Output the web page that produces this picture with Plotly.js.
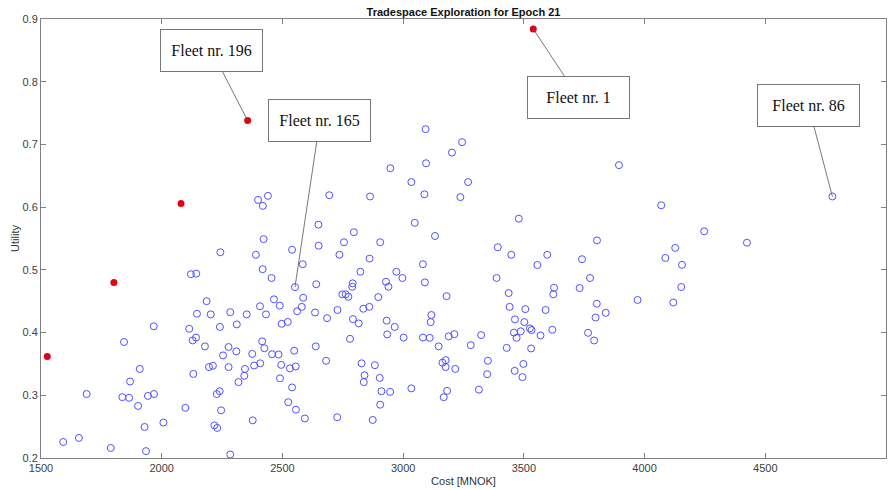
<!DOCTYPE html>
<html>
<head>
<meta charset="utf-8">
<script src="https://cdn.plot.ly/plotly-3.0.1.min.js"></script>
<style>html,body{margin:0;padding:0;background:#fff;}#chart{width:893px;height:490px;}</style>
</head>
<body>
<div id="chart"></div>
<script>
// Blue (hollow) fleets: cost [MNOK] and utility
const blueCost = [1592,1657,1689,1789,1844,1837,1865,1869,1909,1902,1929,1935,1943,1967,1968,2007,2098,2114,2121,2143,
 2128,2142,2131,2146,2179,2186,2196,2203,2212,2218,2230,2228,2240,2241,2243,2246,2254,2277,2277,2284,
 2284,2309,2311,2318,2342,2345,2352,2375,2377,2383,2390,2399,2407,2408,2416,2418,2419,2422,2425,2432,
 2440,2455,2457,2465,2484,2489,2490,2495,2497,2522,2524,2531,2540,2540,2549,2552,2555,2556,2561,2584,
 2586,2580,2640,2635,2649,2650,2694,2638,2681,2685,2728,2727,2736,2755,2748,2762,2773,2780,2593,3093,
 3244,3202,3095,2947,3034,3269,2863,3088,3237,3048,2796,3132,2905,3392,2861,2823,2972,3082,2997,3387,
 2791,2789,2929,2939,3090,2897,3180,2835,2860,2792,2816,2932,2965,3117,3114,2934,3002,3082,3110,3189,
 3212,3323,3147,3280,2828,2883,2840,2837,2903,3163,3176,3176,3216,3351,3348,2910,2946,3034,3182,3168,
 3314,2905,2874,3894,3479,4069,3448,3597,3803,3556,3741,4127,4086,4155,3774,3625,3622,3731,3437,3441,
 3506,3590,3802,3971,4119,3463,3797,3839,3502,3459,3470,3487,3525,3532,3618,3569,3766,3791,3429,3530,
 3462,3498,3494,4778,4247,4424,4152];
const blueUtil = [0.2255,0.232,0.302,0.216,0.385,0.297,0.296,0.322,0.342,0.283,0.2495,0.211,0.299,0.410,0.302,0.2565,0.280,0.406,0.493,0.494,
 0.3875,0.392,0.334,0.430,0.378,0.450,0.345,0.429,0.347,0.252,0.248,0.302,0.3065,0.409,0.528,0.276,0.3635,0.377,0.345,0.4325,
 0.2055,0.370,0.413,0.321,0.331,0.342,0.429,0.366,0.260,0.3475,0.524,0.6115,0.442,0.351,0.386,0.501,0.602,0.549,0.375,0.429,
 0.618,0.487,0.3655,0.453,0.365,0.443,0.327,0.3485,0.414,0.417,0.289,0.343,0.532,0.3125,0.371,0.4725,0.346,0.277,0.434,0.509,
 0.4555,0.441,0.477,0.432,0.572,0.5385,0.619,0.378,0.355,0.423,0.436,0.265,0.524,0.544,0.461,0.461,0.457,0.390,0.263,0.7243,
 0.7036,0.687,0.670,0.662,0.640,0.640,0.617,0.6205,0.616,0.575,0.560,0.554,0.544,0.536,0.518,0.497,0.497,0.509,0.487,0.487,
 0.4785,0.473,0.481,0.473,0.480,0.4566,0.458,0.438,0.441,0.4215,0.4146,0.419,0.409,0.428,0.4167,0.397,0.392,0.392,0.3916,0.394,
 0.3975,0.396,0.378,0.380,0.351,0.348,0.332,0.321,0.3277,0.352,0.356,0.345,0.342,0.355,0.3336,0.3065,0.3054,0.311,0.307,0.297,
 0.309,0.285,0.2607,0.667,0.5816,0.603,0.524,0.524,0.547,0.5077,0.517,0.535,0.519,0.508,0.487,0.4714,0.461,0.471,0.463,0.441,
 0.4374,0.436,0.446,0.452,0.448,0.421,0.424,0.4315,0.4167,0.400,0.3916,0.402,0.4066,0.404,0.4044,0.3954,0.3996,0.3874,0.3756,0.3747,
 0.339,0.350,0.329,0.617,0.5615,0.5433,0.4726];

// Red (filled) fleets
const redCost = [1526,1802,2080,2356,3539];
const redUtil = [0.362,0.480,0.606,0.738,0.884];

// Labelled fleets: text, series and index into that series
const labelText = ['Fleet nr. 196','Fleet nr. 165','Fleet nr. 1','Fleet nr. 86'];
const labelSeries = ['red','blue','red','blue'];
const labelIndex = [3, 75, 4, 203];

const titleText = 'Tradespace Exploration for Epoch 21';
const xTitle = 'Cost [MNOK]';
const yTitle = 'Utility';

const labelOffsets = [[-36,-70],[25,-167],[45,68],[-24,-91]];

const annotations = labelText.map((t,i)=>{
  const xs = labelSeries[i]==='red'?redCost:blueCost;
  const ys = labelSeries[i]==='red'?redUtil:blueUtil;
  return {
    x: xs[labelIndex[i]], y: ys[labelIndex[i]], xref:'x', yref:'y',
    text: t, showarrow:true, arrowhead:0, arrowwidth:0.8, arrowcolor:'#555',
    ax: labelOffsets[i][0], ay: labelOffsets[i][1],
    width:81, height:21, align:'center', valign:'middle',
    bordercolor:'#777', borderwidth:1, borderpad:10, bgcolor:'#fff',
    font:{family:'Liberation Serif, Times New Roman, serif', size:16, color:'#111'}
  };
});

const traces = [
  {x: blueCost, y: blueUtil, type:'scatter', mode:'markers', hoverinfo:'x+y',
   marker:{symbol:'circle-open', size:7, color:'rgb(80,80,255)', line:{width:1, color:'rgb(80,80,255)'}}},
  {x: redCost, y: redUtil, type:'scatter', mode:'markers',
   marker:{symbol:'circle', size:7, color:'rgb(230,0,20)'}}
];

const axisCommon = {
  showgrid:false, zeroline:false, showline:true, mirror:'ticks', linecolor:'#808080', linewidth:1,
  ticks:'inside', ticklen:5, tickcolor:'#808080',
  tickfont:{family:'Liberation Sans, Arial, sans-serif', size:11, color:'#404040'}
};

const layout = {
  width:893, height:490,
  margin:{l:41, r:7, t:19, b:32},
  paper_bgcolor:'#fff', plot_bgcolor:'#fff',
  showlegend:false,
  title:{text:'<b>'+titleText+'</b>', x:0.5, xref:'paper', y:1-12/490, yref:'container', yanchor:'middle',
         font:{family:'Liberation Sans, Arial, sans-serif', size:11, color:'#111'}},
  xaxis:Object.assign({}, axisCommon, {range:[1500,5000], dtick:500, tick0:1500, tickformat:'d',
         title:{text:xTitle, standoff:4, font:{family:'Liberation Sans, Arial, sans-serif', size:11, color:'#333'}}}),
  yaxis:Object.assign({}, axisCommon, {range:[0.2,0.9], dtick:0.1, tick0:0.2, tickformat:'.1f',
         title:{text:yTitle, standoff:0, font:{family:'Liberation Sans, Arial, sans-serif', size:11, color:'#333'}}}),
  annotations: annotations
};

Plotly.newPlot('chart', traces, layout, {displayModeBar:false, staticPlot:true});
</script>
</body>
</html>
